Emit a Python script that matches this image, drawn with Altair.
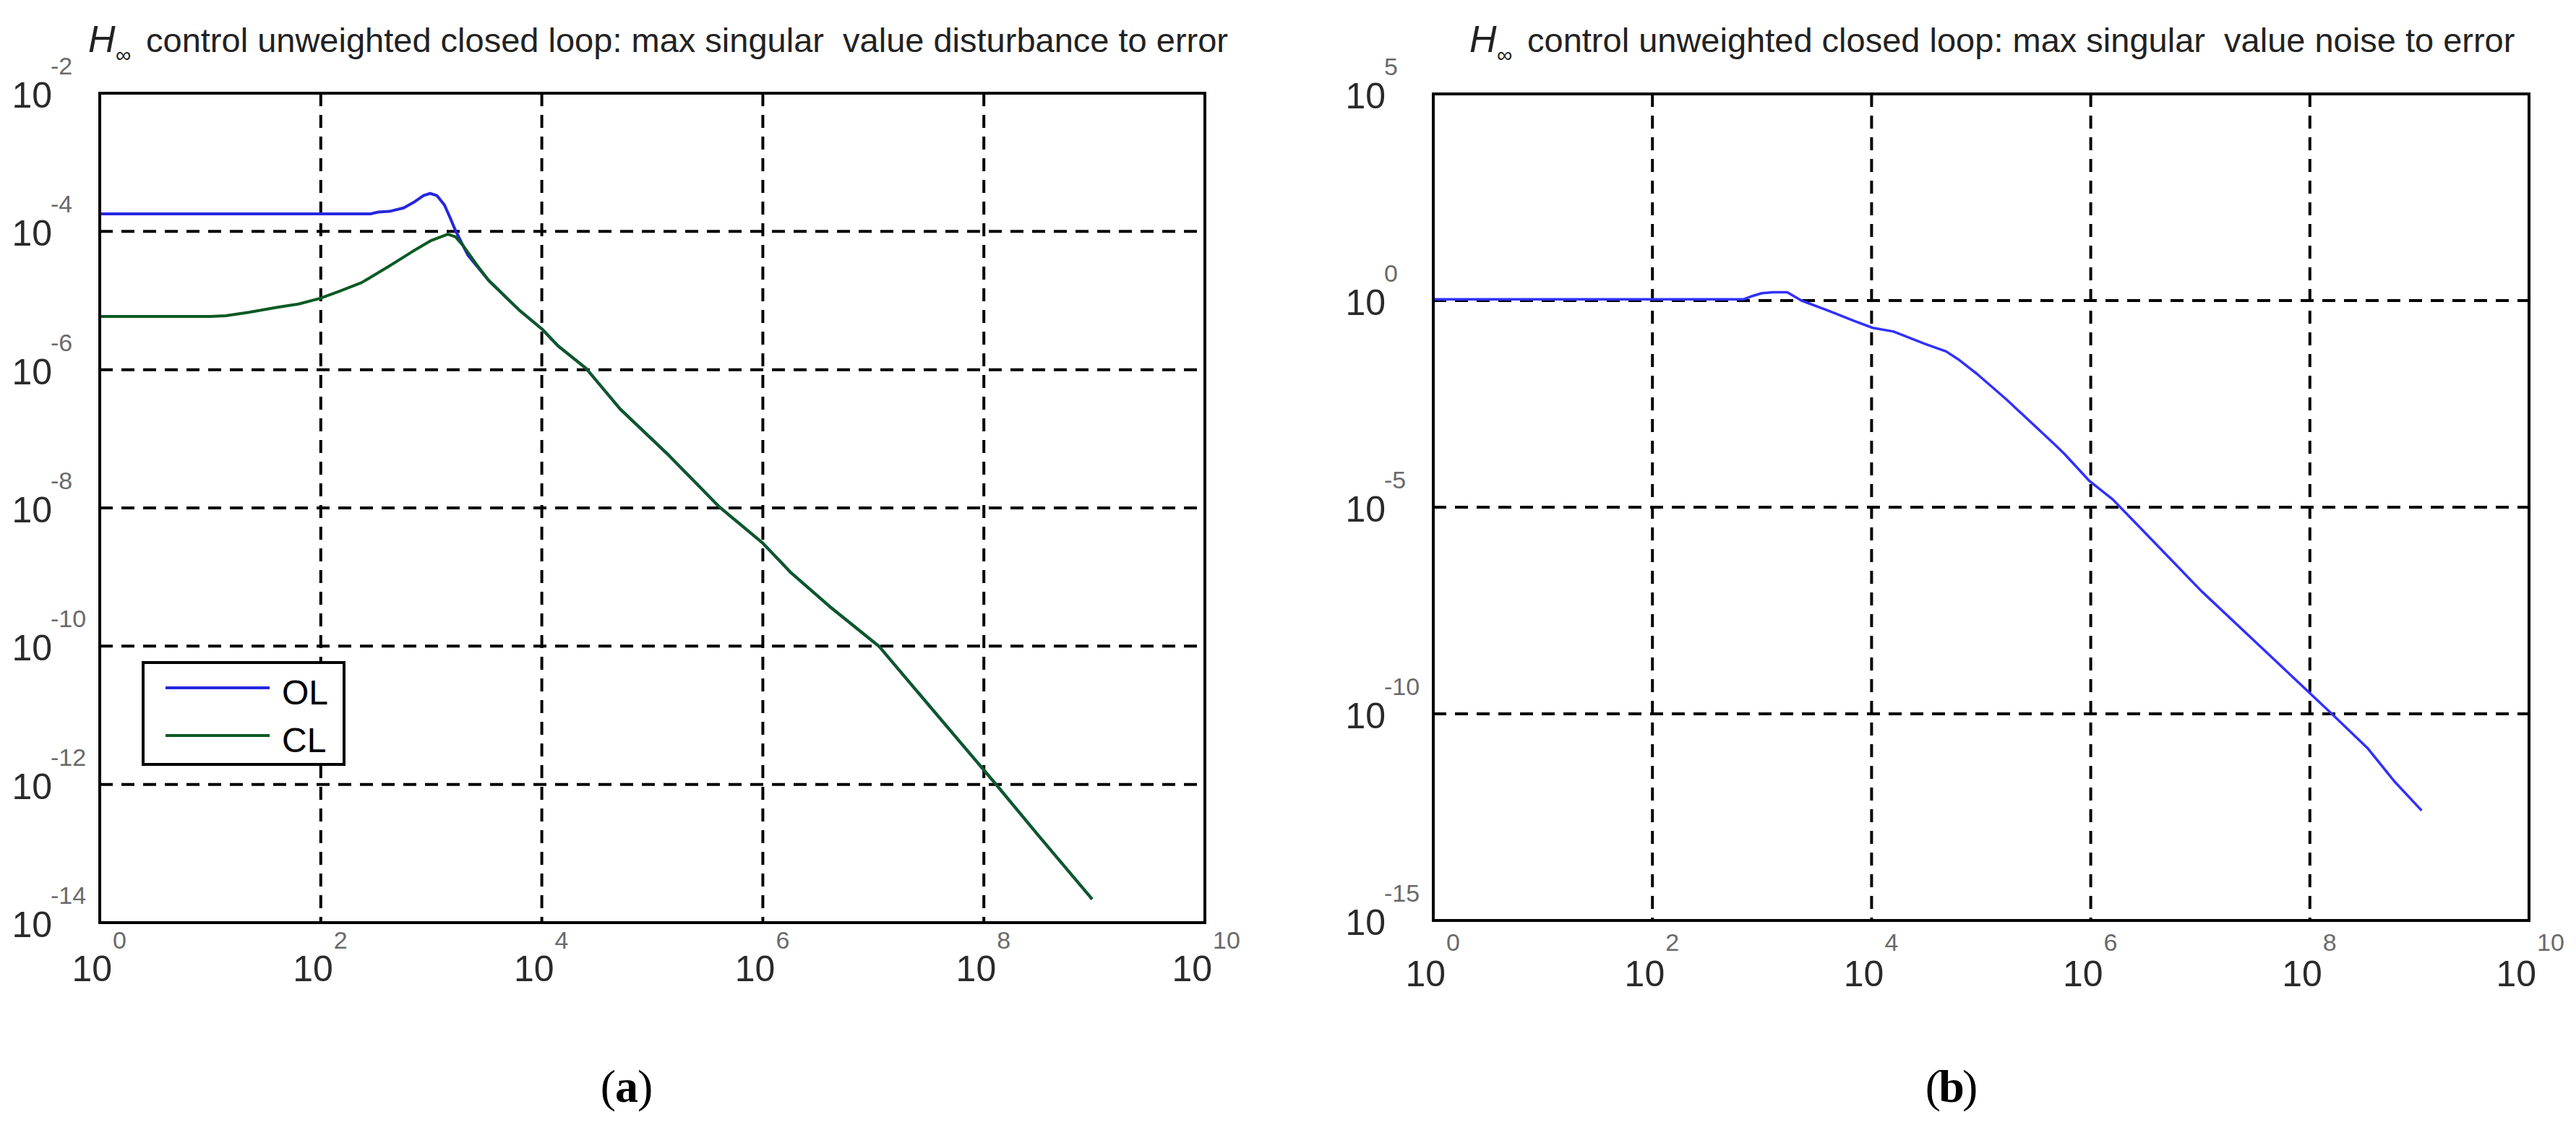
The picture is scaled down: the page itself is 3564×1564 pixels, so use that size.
import altair as alt
import pandas as pd

# ---------------- data (log10 values) ----------------
# panel (a): max singular value, disturbance to error
a_ol_logw = [0.0, 1.0, 2.0, 2.45, 2.52, 2.62, 2.75, 2.85, 2.93, 2.99, 3.05, 3.12, 3.17, 3.22,
             3.33, 3.52, 3.79, 4.0, 4.15, 4.4, 4.71, 5.15, 5.61, 6.0, 6.25, 6.6, 7.05, 7.5,
             8.11, 8.5, 8.98]
a_ol_logv = [-3.745, -3.745, -3.745, -3.745, -3.72, -3.71, -3.66, -3.57, -3.48, -3.45, -3.48,
             -3.62, -3.80, -3.99, -4.34, -4.71, -5.13, -5.41, -5.66, -5.98, -6.57, -7.24,
             -7.99, -8.51, -8.93, -9.42, -10.0, -10.85, -12.0, -12.75, -13.66]
a_cl_logw = [0.0, 1.0, 1.14, 1.35, 1.6, 1.8, 1.99, 2.16, 2.37, 2.62, 2.83, 3.0, 3.15, 3.22,
             3.29, 3.41, 3.52, 3.79, 4.0, 4.15, 4.4, 4.71, 5.15, 5.61, 6.0, 6.25, 6.6, 7.05,
             7.5, 8.11, 8.5, 8.98]
a_cl_logv = [-5.23, -5.23, -5.22, -5.17, -5.10, -5.05, -4.97, -4.87, -4.74, -4.50, -4.29,
             -4.13, -4.04, -4.08, -4.21, -4.48, -4.71, -5.13, -5.41, -5.66, -5.98, -6.57,
             -7.24, -7.99, -8.51, -8.93, -9.42, -10.0, -10.85, -12.0, -12.75, -13.66]
# panel (b): max singular value, noise to error
b_logw = [0.0, 1.0, 2.0, 2.83, 2.9, 3.0, 3.1, 3.23, 3.36, 3.59, 3.84, 4.01, 4.2, 4.49, 4.68,
          4.79, 4.96, 5.23, 5.67, 5.76, 5.99, 6.2, 6.38, 7.01, 7.6, 8.2, 8.53, 8.77, 9.02]
b_logv = [0.03, 0.03, 0.03, 0.03, 0.1, 0.18, 0.2, 0.2, 0.0, -0.23, -0.49, -0.66, -0.75, -1.05,
          -1.23, -1.42, -1.77, -2.39, -3.48, -3.71, -4.37, -4.81, -5.3, -7.03, -8.5, -10.0,
          -10.84, -11.63, -12.34]

x_tick_exp = [0, 2, 4, 6, 8, 10]
a_y_tick_exp = [-2, -4, -6, -8, -10, -12, -14]
b_y_tick_exp = [5, 0, -5, -10, -15]

title_a = "control unweighted closed loop: max singular\u00a0 value disturbance to error"
title_b = "control unweighted closed loop: max singular\u00a0 value noise to error"
series_names = ["OL", "CL"]

# ---------------- styles ----------------
BLUE_A = "#2626e0"
GREEN = "#0b5a24"
BLUE_B = "#3030ff"
FONT = "Liberation Sans"
DASH = [18, 12]

dummy = pd.DataFrame({"k": [0]})


def curve(logw, logv):
    return pd.DataFrame({"w": [10.0 ** a for a in logw],
                         "v": [10.0 ** b for b in logv],
                         "i": list(range(len(logw)))})


def panel(xs, ys, xdom, ydom, curves, ygrid_exp, ytick_exp, frame_left, frame_bottom,
          xlab_base_y, xlab_exp_y, title_x, title_text):
    X = lambda **k: alt.X(scale=xs, axis=None, **k)
    Y = lambda **k: alt.Y(scale=ys, axis=None, **k)
    layers = []
    # grid
    vg = pd.DataFrame({"w": [10.0 ** e for e in x_tick_exp[1:-1]]})
    layers.append(alt.Chart(vg).mark_rule(color="black", strokeWidth=4, strokeDash=DASH).encode(
        x=X(field="w", type="quantitative"), y=Y(datum=ydom[1]), y2=alt.Y2(datum=ydom[0])))
    hg = pd.DataFrame({"v": [10.0 ** e for e in ygrid_exp]})
    layers.append(alt.Chart(hg).mark_rule(color="black", strokeWidth=4, strokeDash=DASH).encode(
        y=Y(field="v", type="quantitative"), x=X(datum=xdom[0]), x2=alt.X2(datum=xdom[1])))
    # curves
    for df, col, sw in curves:
        layers.append(alt.Chart(df).mark_line(color=col, strokeWidth=sw, strokeJoin="round").encode(
            x=X(field="w", type="quantitative"), y=Y(field="v", type="quantitative"),
            order=alt.Order("i:Q")))
    # frame
    layers.append(alt.Chart(dummy).mark_rect(fillOpacity=0, stroke="black", strokeWidth=4).encode(
        x=X(datum=xdom[0]), x2=alt.X2(datum=xdom[1]), y=Y(datum=ydom[1]), y2=alt.Y2(datum=ydom[0])))
    # x tick labels
    xl = pd.DataFrame({"w": [10.0 ** e for e in x_tick_exp], "e": [str(e) for e in x_tick_exp]})
    xl1 = xl[xl["e"].str.len() == 1]
    xl2 = xl[xl["e"].str.len() == 2]
    for sub, dx in ((xl1, 17), (xl2, 10)):
        layers.append(alt.Chart(sub).mark_text(text="10", align="right", baseline="middle",
                                               fontSize=50, font=FONT, color="#2a2a2a", dx=dx).encode(
            x=X(field="w", type="quantitative"), y=alt.value(xlab_base_y)))
        layers.append(alt.Chart(sub).mark_text(align="left", baseline="middle", fontSize=34,
                                               font=FONT, color="#6a6a6a", dx=dx + 1).encode(
            x=X(field="w", type="quantitative"), y=alt.value(xlab_exp_y), text="e:N"))
    # y tick labels
    yl = pd.DataFrame({"v": [10.0 ** e for e in ytick_exp], "e": [str(e) for e in ytick_exp]})
    layers.append(alt.Chart(yl).mark_text(text="10", align="right", baseline="middle", fontSize=50,
                                          font=FONT, color="#2a2a2a", dy=5).encode(
        y=Y(field="v", type="quantitative"), x=alt.value(frame_left - 66)))
    layers.append(alt.Chart(yl).mark_text(align="left", baseline="middle", fontSize=34, font=FONT,
                                          color="#6a6a6a", dy=-36).encode(
        y=Y(field="v", type="quantitative"), x=alt.value(frame_left - 68), text="e:N"))
    # title: italic H with infinity subscript, then the rest
    layers.append(alt.Chart(dummy).mark_text(text="H", fontStyle="italic", fontSize=52, font=FONT,
                                             align="left", baseline="alphabetic", color="#222").encode(
        x=alt.value(title_x), y=alt.value(64)))
    layers.append(alt.Chart(dummy).mark_text(text="\u221e", fontSize=30, font=FONT, align="left",
                                             baseline="alphabetic", color="#222").encode(
        x=alt.value(title_x + 38), y=alt.value(78)))
    layers.append(alt.Chart(dummy).mark_text(text=title_text, fontSize=47, font=FONT, align="left",
                                             baseline="alphabetic", color="#222").encode(
        x=alt.value(title_x + 80), y=alt.value(64)))
    return layers


# ---------- panel (a) ----------
a_xdom = [1.0, 1e10]
a_ydom = [1e-14, 1e-2]
a_xs = alt.Scale(type="log", domain=a_xdom, range=[130, 1659], nice=False)
a_ys = alt.Scale(type="log", domain=a_ydom, range=[1269, 121], nice=False)
a_layers = panel(a_xs, a_ys, a_xdom, a_ydom,
                 [(curve(a_ol_logw, a_ol_logv), BLUE_A, 4), (curve(a_cl_logw, a_cl_logv), GREEN, 4)],
                 [-4, -6, -8, -10, -12], a_y_tick_exp, 130, 1269, 1335, 1295, 114, title_a)

# legend for (a)
a_layers.append(alt.Chart(dummy).mark_rect(fill="white", stroke="black", strokeWidth=4).encode(
    x=alt.value(190), x2=alt.value(468), y=alt.value(909), y2=alt.value(1050)))
for name, col, ly in zip(series_names, [BLUE_A, GREEN], [944, 1010]):
    a_layers.append(alt.Chart(dummy).mark_rule(color=col, strokeWidth=4).encode(
        x=alt.value(221), x2=alt.value(365), y=alt.value(ly)))
    a_layers.append(alt.Chart(dummy).mark_text(text=name, fontSize=48, font=FONT, align="left",
                                               baseline="middle", color="black").encode(
        x=alt.value(382), y=alt.value(ly + 9)))

# ---------- panel (b) ----------
b_xdom = [1.0, 1e10]
b_ydom = [1e-15, 1e5]
b_xs = alt.Scale(type="log", domain=b_xdom, range=[1975, 3491], nice=False)
b_ys = alt.Scale(type="log", domain=b_ydom, range=[1266, 122], nice=False)
b_layers = panel(b_xs, b_ys, b_xdom, b_ydom, [(curve(b_logw, b_logv), BLUE_B, 3.5)],
                 [0, -5, -10], b_y_tick_exp, 1975, 1266, 1342, 1298, 2025, title_b)

# sub-figure captions
for cx, letter in ((859, "a"), (2692, "b")):
    for txt, dx, w, al in (("(", -15, "normal", "right"), (letter, 0, "bold", "center"),
                           (")", 15, "normal", "left")):
        b_layers.append(alt.Chart(dummy).mark_text(text=txt, fontSize=64, font="Liberation Serif",
                                                   fontWeight=w, align=al, baseline="middle",
                                                   color="black", dx=dx).encode(
            x=alt.value(cx), y=alt.value(1498)))

chart = alt.layer(alt.layer(*a_layers), alt.layer(*b_layers)).resolve_scale(
    x="independent", y="independent"
).properties(
    width=3548, height=1548, autosize=alt.AutoSizeParams(type="none"), padding=0
).configure_view(stroke=None)

chart.save("out.html", embed_options={"renderer": "svg", "actions": False})
